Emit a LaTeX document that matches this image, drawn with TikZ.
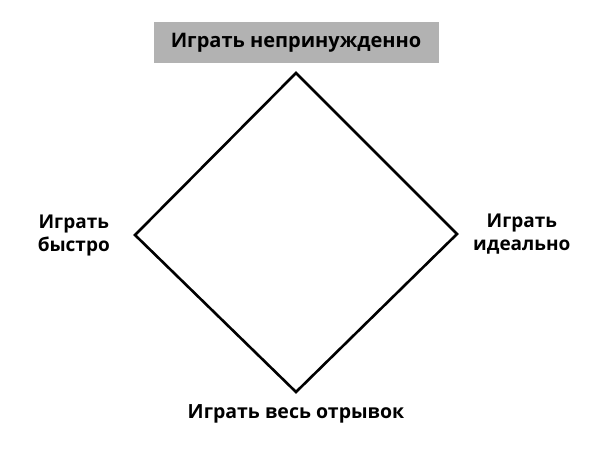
\documentclass[tikz,border=0pt]{standalone}
\usepackage{fontspec}
\setmainfont{Open Sans}
\usepackage{tikz}
\usetikzlibrary{positioning}
\definecolor{boxgray}{RGB}{178,178,178}

\begin{document}
\begin{tikzpicture}[x=1pt, y=-1pt,
    font=\bfseries\fontsize{20}{24}\selectfont,
    label/.style={align=center, inner sep=3pt},
    sidelabel/.style={label, font=\bfseries\fontsize{19}{23}\selectfont}]
    \useasboundingbox (0,0) rectangle (602,457);

    % Diamond
    \coordinate (top) at (296,73);
    \coordinate (right) at (457,234);
    \coordinate (bottom) at (296,392);
    \coordinate (left) at (135,235);
    \draw[line width=2.6pt, line join=miter] (top) -- (right) -- (bottom) -- (left) -- cycle;

    % Top label
    \node[label, fill=boxgray, minimum width=285pt, minimum height=41pt, above=10pt of top] (easy) {Играть непринужденно};

    % Side labels
    \node[sidelabel, left=22pt of left] (fast) {Играть\\быстро};
    \node[sidelabel, right=13pt of right] (perfect) {Играть\\идеально};

    % Bottom label
    \node[label, font=\bfseries\fontsize{19.5}{24}\selectfont, below=9pt of bottom] (whole) {Играть весь отрывок};

\end{tikzpicture}
\end{document}
